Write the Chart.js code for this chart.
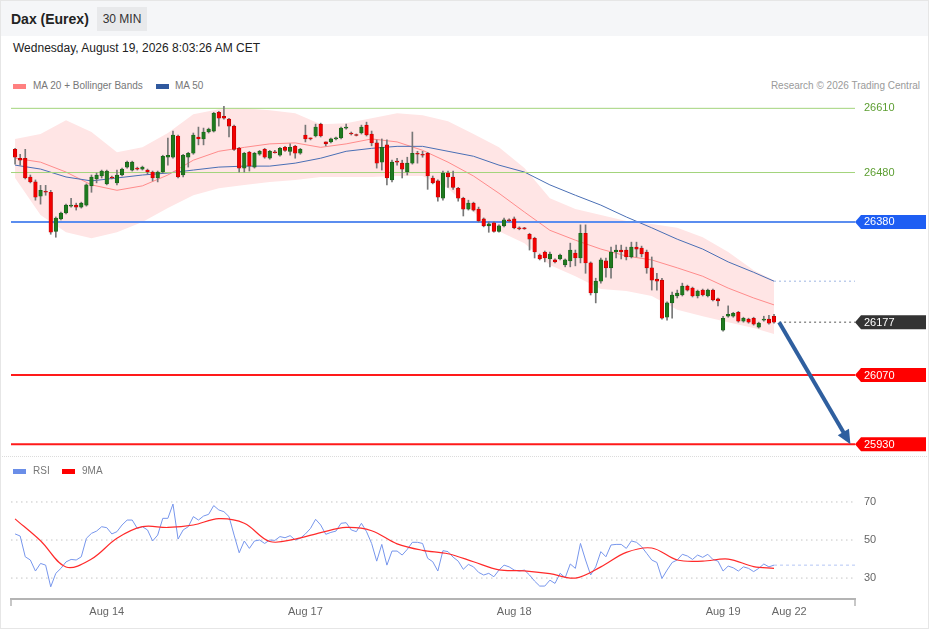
<!DOCTYPE html>
<html lang="en">
<head>
<meta charset="UTF-8">
<title>Dax (Eurex) 30 MIN</title>
<script src="https://cdn.jsdelivr.net/npm/chart.js"></script>
<style>
  html, body { margin: 0; padding: 0; background: #fff; }
  body { font-family: "Liberation Sans", Arial, sans-serif; }
  #page { position: relative; width: 929px; height: 629px; overflow: hidden; }
  .abs { position: absolute; white-space: nowrap; }
  #topbar { left: 0; top: 0; width: 929px; height: 36px; background: #f5f6f8; }
  #title { left: 11px; top: 10px; font-size: 14px; font-weight: bold; color: #222; line-height: 18px; }
  #tf { left: 97px; top: 7px; width: 50px; height: 24px; background: #e8e9eb; font-size: 12px; color: #333; line-height: 24px; text-align: center; }
  #date { left: 13px; top: 41px; font-size: 12px; color: #222; line-height: 14px; }
  .legend { font-size: 10px; color: #777; line-height: 12px; }
  .sw { position: absolute; width: 13px; height: 5px; }
  canvas { position: absolute; left: 0; }
  #frame { left: 0; top: 0; width: 927px; height: 627px; border: 1px solid #e6e6e6; pointer-events: none; }
  #sep { left: 0; top: 456px; width: 929px; height: 0; border-top: 1px dotted #dcdcdc; }
</style>
</head>
<body>
<div id="page">
  <div class="abs" id="topbar"></div>
  <div class="abs" id="title">Dax (Eurex)</div>
  <div class="abs" id="tf">30 MIN</div>
  <div class="abs" id="date">Wednesday, August 19, 2026 8:03:26 AM CET</div>

  <div class="sw" style="left:13px;top:84px;background:#ff8080"></div>
  <div class="abs legend" style="left:33px;top:80px">MA 20 + Bollinger Bands</div>
  <div class="sw" style="left:156px;top:84px;background:#30599e"></div>
  <div class="abs legend" style="left:175px;top:80px">MA 50</div>
  <div class="abs legend" style="right:9px;top:80px;color:#9a9a9a">Research © 2026 Trading Central</div>

  <canvas id="main" width="929" height="460" style="top:0"></canvas>
  <div class="abs" id="sep"></div>

  <div class="sw" style="left:13px;top:469px;background:#6a8ee8"></div>
  <div class="abs legend" style="left:33px;top:465px">RSI</div>
  <div class="sw" style="left:62px;top:469px;background:#ff0000"></div>
  <div class="abs legend" style="left:82px;top:465px">9MA</div>

  <canvas id="rsi" width="929" height="169" style="top:460px"></canvas>
  <div class="abs" id="frame"></div>
</div>

<script>
// ---- data (30 min bars, index 0 = first bar on screen) ----
const dayLabels = ['Aug 14', 'Aug 17', 'Aug 18', 'Aug 19', 'Aug 22'];
const dayStart = [18, 57, 98, 139, 152];

const opens = [
  26527, 26509, 26509, 26471, 26461, 26432, 26442, 26440, 26361, 26386,
  26398, 26412, 26414, 26410, 26414, 26453, 26467, 26473, 26457, 26471,
  26459, 26475, 26491, 26485, 26489, 26487, 26485, 26481, 26469, 26481,
  26511, 26511, 26554, 26475, 26511, 26519, 26552, 26548, 26562, 26564,
  26602, 26594, 26588, 26574, 26529, 26489, 26521, 26491, 26517, 26527,
  26509, 26521, 26515, 26531, 26523, 26533, 26519, 26556, 26550, 26554,
  26578, 26542, 26542, 26548, 26550, 26570, 26560, 26556, 26560, 26576,
  26558, 26540, 26501, 26536, 26465, 26503, 26499, 26481, 26499, 26519,
  26517, 26519, 26469, 26463, 26428, 26479, 26471, 26448, 26428, 26406,
  26418, 26406, 26386, 26372, 26378, 26361, 26372, 26384, 26386, 26368,
  26367, 26355, 26347, 26313, 26319, 26305, 26303, 26305, 26293, 26301,
  26317, 26307, 26357, 26297, 26236, 26260, 26301, 26287, 26319, 26323,
  26323, 26309, 26329, 26327, 26319, 26287, 26264, 26262, 26187, 26216,
  26230, 26232, 26250, 26246, 26230, 26242, 26230, 26242, 26224, 26161,
  26189, 26189, 26197, 26179, 26183, 26185, 26167, 26181, 26183, 26189
];
const highs = [
  26529, 26517, 26527, 26475, 26465, 26454, 26454, 26444, 26390, 26400,
  26416, 26428, 26418, 26420, 26457, 26475, 26479, 26485, 26485, 26473,
  26485, 26489, 26503, 26503, 26491, 26493, 26487, 26483, 26483, 26515,
  26550, 26564, 26556, 26517, 26521, 26560, 26572, 26570, 26570, 26602,
  26604, 26614, 26590, 26576, 26531, 26521, 26523, 26521, 26525, 26529,
  26525, 26525, 26531, 26533, 26538, 26535, 26529, 26576, 26550, 26578,
  26580, 26542, 26550, 26552, 26572, 26578, 26562, 26558, 26576, 26582,
  26564, 26546, 26548, 26546, 26505, 26509, 26505, 26511, 26562, 26523,
  26523, 26521, 26473, 26465, 26483, 26483, 26483, 26450, 26430, 26424,
  26420, 26410, 26388, 26380, 26380, 26374, 26388, 26386, 26390, 26370,
  26369, 26357, 26349, 26315, 26321, 26319, 26305, 26315, 26305, 26337,
  26323, 26374, 26374, 26299, 26266, 26307, 26307, 26329, 26333, 26333,
  26329, 26339, 26339, 26331, 26323, 26309, 26276, 26266, 26218, 26238,
  26242, 26256, 26252, 26248, 26242, 26244, 26244, 26244, 26226, 26189,
  26210, 26197, 26199, 26187, 26185, 26187, 26177, 26189, 26191, 26193
];
const lows = [
  26497, 26495, 26467, 26459, 26424, 26416, 26434, 26355, 26349, 26384,
  26396, 26410, 26404, 26408, 26412, 26440, 26459, 26469, 26455, 26467,
  26455, 26473, 26489, 26483, 26485, 26485, 26477, 26463, 26461, 26479,
  26495, 26509, 26469, 26471, 26491, 26517, 26536, 26536, 26560, 26562,
  26574, 26588, 26552, 26525, 26481, 26481, 26483, 26489, 26515, 26509,
  26507, 26519, 26513, 26523, 26515, 26509, 26517, 26542, 26546, 26552,
  26552, 26534, 26540, 26546, 26548, 26568, 26556, 26554, 26558, 26554,
  26534, 26489, 26485, 26455, 26461, 26495, 26469, 26475, 26497, 26499,
  26511, 26446, 26457, 26422, 26424, 26450, 26446, 26422, 26392, 26404,
  26402, 26380, 26370, 26359, 26359, 26359, 26370, 26380, 26366, 26364,
  26365, 26323, 26307, 26303, 26299, 26289, 26297, 26303, 26289, 26289,
  26291, 26297, 26276, 26232, 26216, 26256, 26268, 26266, 26307, 26305,
  26303, 26307, 26309, 26309, 26276, 26242, 26242, 26183, 26181, 26185,
  26226, 26230, 26240, 26228, 26226, 26230, 26228, 26220, 26210, 26159,
  26187, 26187, 26177, 26177, 26175, 26171, 26165, 26179, 26173, 26175
];
const closes = [
  26511, 26505, 26469, 26461, 26430, 26444, 26440, 26359, 26388, 26398,
  26414, 26414, 26410, 26418, 26455, 26471, 26475, 26483, 26483, 26469,
  26475, 26487, 26501, 26501, 26487, 26491, 26481, 26469, 26481, 26513,
  26515, 26556, 26471, 26515, 26519, 26556, 26548, 26562, 26568, 26600,
  26590, 26590, 26574, 26527, 26489, 26519, 26493, 26519, 26523, 26511,
  26523, 26520, 26529, 26525, 26531, 26519, 26527, 26548, 26548, 26572,
  26554, 26538, 26548, 26550, 26570, 26572, 26558, 26555, 26572, 26556,
  26540, 26499, 26531, 26469, 26501, 26501, 26487, 26499, 26519, 26517,
  26515, 26473, 26459, 26430, 26479, 26471, 26450, 26428, 26406, 26418,
  26404, 26382, 26372, 26376, 26361, 26372, 26384, 26382, 26368, 26366,
  26366, 26345, 26319, 26305, 26307, 26315, 26299, 26313, 26303, 26323,
  26307, 26357, 26297, 26236, 26260, 26303, 26287, 26319, 26323, 26319,
  26309, 26329, 26325, 26315, 26287, 26262, 26260, 26185, 26216, 26232,
  26236, 26250, 26242, 26230, 26240, 26232, 26242, 26222, 26220, 26185,
  26193, 26195, 26179, 26185, 26177, 26173, 26175, 26183, 26175, 26177
];

// indicator readings, taken every 5 bars
const bandIdx = [0, 5, 10, 15, 20, 25, 30, 35, 40, 45, 50, 55, 60, 65, 70, 75,
  80, 85, 90, 95, 100, 105, 110, 115, 120, 125, 130, 135, 140, 145, 149];
const bbUpper = [26548, 26558, 26586, 26562, 26521, 26531, 26560, 26598, 26608, 26610, 26606,
  26600, 26578, 26580, 26590, 26600, 26596, 26584, 26558, 26531, 26489, 26428, 26406,
  26394, 26382, 26376, 26368, 26349, 26319, 26282, 26262];
const bbLower = [26469, 26394, 26359, 26347, 26359, 26380, 26408, 26434, 26448, 26455, 26461,
  26465, 26471, 26471, 26471, 26473, 26473, 26448, 26400, 26361, 26337, 26293, 26270,
  26244, 26240, 26230, 26202, 26189, 26177, 26165, 26153];
const ma20 = [26509, 26501, 26481, 26455, 26444, 26453, 26475, 26505, 26523, 26531, 26538,
  26540, 26531, 26538, 26548, 26542, 26525, 26501, 26473, 26438, 26400, 26363, 26343,
  26325, 26311, 26303, 26287, 26270, 26246, 26226, 26212];
const ma50 = [26495, 26487, 26471, 26463, 26469, 26475, 26479, 26485, 26491, 26493, 26493,
  26499, 26509, 26523, 26529, 26533, 26533, 26523, 26513, 26495, 26481, 26455, 26434,
  26414, 26390, 26368, 26345, 26325, 26299, 26278, 26260];

const rsi = [
  53.2, 52.1, 41.2, 39.5, 33.7, 37.7, 36.8, 25.4, 32.5, 35.1,
  38.5, 39.8, 39.5, 41.2, 50.9, 53.5, 54.7, 57.0, 56.5, 53.2,
  54.4, 57.9, 60.5, 60.5, 56.1, 57.0, 55.3, 49.5, 52.6, 61.4,
  61.4, 68.9, 50.5, 55.3, 57.0, 62.3, 60.5, 62.6, 63.5, 68.1,
  65.8, 64.9, 62.3, 52.6, 43.3, 49.5, 45.6, 49.5, 50.0, 48.2,
  50.0, 49.8, 51.8, 51.2, 52.3, 50.0, 50.9, 53.2, 56.1, 60.9,
  57.9, 53.0, 54.0, 54.7, 58.8, 59.1, 55.3, 54.4, 58.8, 54.4,
  48.2, 38.9, 47.7, 36.8, 44.2, 44.2, 42.1, 45.1, 48.8, 48.8,
  48.2, 40.4, 38.6, 33.7, 44.4, 43.9, 41.0, 38.9, 34.6, 37.2,
  35.9, 33.0, 31.6, 32.5, 30.7, 34.2, 36.8, 35.9, 34.2, 33.7,
  34.2, 31.6, 28.4, 25.8, 25.8, 28.9, 27.2, 32.5, 30.2, 37.4,
  35.1, 48.2, 39.5, 31.6, 35.9, 43.9, 41.2, 47.4, 47.7, 47.7,
  45.6, 49.5, 48.8, 46.5, 43.0, 39.5, 38.2, 29.8, 34.2, 38.2,
  39.5, 42.5, 41.6, 39.8, 42.1, 40.9, 42.5, 39.8, 38.9, 33.7,
  36.3, 35.4, 33.7, 35.9, 35.1, 33.4, 35.1, 37.4, 35.9, 36.8
];
const rsiMa = [61.1, 49.6, 35.8, 40.0, 50.9, 57.0, 56.6, 57.9, 61.2, 58.8, 49.2, 50.5,
  53.9, 56.6, 54.9, 48.0, 44.6, 42.8, 38.6, 34.3, 33.8, 32.3, 30.0, 35.9, 43.5, 45.8,
  39.5, 38.9, 40.0, 36.0, 35.1];

const resistances = [26610, 26480];
const pivotLevel = 26380;
const supports = [26070, 25930];
const rsiLevels = [30, 50, 70];
const projectionBars = 14;

// ---- helpers ----
const FONT = '"Liberation Sans", Arial, sans-serif';
Chart.defaults.font.family = FONT;
Chart.defaults.font.size = 11;
Chart.defaults.color = '#666';

const xMin = -0.8, xMax = 164.9;
const last = closes.length - 1;
const lastPrice = closes[last];
const idx = closes.map((_, i) => i);
const pts = (ix, vals) => ix.map((x, k) => ({x: x, y: vals[k]}));
const hline = (v, from) => [{x: from === undefined ? xMin : from, y: v}, {x: xMax, y: v}];
const lineDs = (data, color, width, extra) => Object.assign({
  type: 'line', data: data, borderColor: color, borderWidth: width,
  pointRadius: 0, fill: false, tension: 0
}, extra || {});

// ---- plugins ----
const levelTags = {
  id: 'levelTags',
  afterDatasetsDraw(chart) {
    const {ctx, chartArea: a, scales: {y}} = chart;
    ctx.save();
    ctx.font = '11px ' + FONT;
    ctx.textBaseline = 'middle';
    resistances.forEach(v => {
      ctx.fillStyle = '#5c9e31';
      ctx.fillText(String(v), a.right + 9, y.getPixelForValue(v));
    });
    const tag = (v, color) => {
      const py = y.getPixelForValue(v);
      ctx.fillStyle = color;
      ctx.beginPath();
      ctx.moveTo(a.right, py);
      ctx.lineTo(a.right + 6, py - 7);
      ctx.lineTo(a.right + 71, py - 7);
      ctx.lineTo(a.right + 71, py + 7);
      ctx.lineTo(a.right + 6, py + 7);
      ctx.closePath();
      ctx.fill();
      ctx.fillStyle = '#fff';
      ctx.fillText(String(v), a.right + 9, py + 0.5);
    };
    tag(pivotLevel, '#1e5ef3');
    tag(lastPrice, '#333333');
    supports.forEach(v => tag(v, '#ff0000'));
    ctx.restore();
  }
};

const projection = {
  id: 'projection',
  afterDatasetsDraw(chart) {
    const {ctx, scales: {x, y}} = chart;
    const x0 = x.getPixelForValue(closes.length), y0 = y.getPixelForValue(lastPrice);
    const target = supports[supports.length - 1];
    const x1 = x.getPixelForValue(last + projectionBars + 1), y1 = y.getPixelForValue(target);
    const ang = Math.atan2(y1 - y0, x1 - x0);
    const head = 14, half = 6.5;
    ctx.save();
    ctx.strokeStyle = '#2f5f9f';
    ctx.fillStyle = '#2f5f9f';
    ctx.lineWidth = 4;
    ctx.beginPath();
    ctx.moveTo(x0, y0);
    ctx.lineTo(x1 - Math.cos(ang) * head * 0.8, y1 - Math.sin(ang) * head * 0.8);
    ctx.stroke();
    ctx.beginPath();
    ctx.moveTo(x1, y1);
    ctx.lineTo(x1 - Math.cos(ang) * head - Math.sin(ang) * half, y1 - Math.sin(ang) * head + Math.cos(ang) * half);
    ctx.lineTo(x1 - Math.cos(ang) * head + Math.sin(ang) * half, y1 - Math.sin(ang) * head - Math.cos(ang) * half);
    ctx.closePath();
    ctx.fill();
    ctx.restore();
  }
};

const axisEnds = {
  id: 'axisEnds',
  afterDraw(chart) {
    const {ctx, chartArea: a} = chart;
    ctx.save();
    ctx.strokeStyle = '#b4b4b4';
    ctx.lineWidth = 1.5;
    [a.left, a.right].forEach(px => {
      ctx.beginPath();
      ctx.moveTo(px, a.bottom);
      ctx.lineTo(px, a.bottom + 7);
      ctx.stroke();
    });
    ctx.restore();
  }
};

// ---- main price chart ----
new Chart(document.getElementById('main'), {
  type: 'bar',
  data: {
    datasets: [
      {
        type: 'bar', label: 'body', grouped: false, order: 0,
        data: idx.map(i => ({x: i, y: [opens[i], closes[i]]})),
        backgroundColor: c => closes[c.dataIndex] >= opens[c.dataIndex] ? '#1f7a1f' : '#f20000',
        borderColor: c => closes[c.dataIndex] >= opens[c.dataIndex] ? '#165a16' : '#b30000',
        borderWidth: 0.6, borderSkipped: false,
        barThickness: 3.6, minBarLength: 1
      },
      {
        type: 'bar', label: 'wick', grouped: false, order: 1,
        data: idx.map(i => ({x: i, y: [lows[i], highs[i]]})),
        backgroundColor: '#777', barThickness: 1
      },
      lineDs(hline(lastPrice, closes.length), '#555', 1, {order: 2, borderDash: [2, 3]}),
      lineDs(hline(supports[0]), '#ff1a1a', 2, {order: 3}),
      lineDs(hline(supports[1]), '#ff1a1a', 2, {order: 3}),
      lineDs(hline(pivotLevel), '#5b8def', 2, {order: 3}),
      lineDs(hline(resistances[0]), '#a3d47c', 1, {order: 3}),
      lineDs(hline(resistances[1]), '#a3d47c', 1, {order: 3}),
      lineDs(pts(bandIdx, ma50), '#4a6fb5', 1, {order: 4}),
      lineDs(hline(ma50[ma50.length - 1], last), '#9db5e2', 1, {order: 4, borderDash: [2, 3]}),
      lineDs(pts(bandIdx, ma20), '#ff8c8c', 1, {order: 4}),
      lineDs(pts(bandIdx, bbUpper), 'rgba(0,0,0,0)', 0, {order: 6, fill: '+1', backgroundColor: '#ffe5e5'}),
      lineDs(pts(bandIdx, bbLower), 'rgba(0,0,0,0)', 0, {order: 6})
    ]
  },
  options: {
    responsive: false,
    animation: false,
    events: [],
    layout: {padding: {left: 11, right: 74, top: 95, bottom: 5}},
    plugins: {legend: {display: false}, tooltip: {enabled: false}},
    scales: {
      x: {type: 'linear', min: xMin, max: xMax, offset: false, display: false},
      y: {type: 'linear', min: 25908, max: 26637, beginAtZero: false, display: false}
    }
  },
  plugins: [levelTags, projection]
});

// ---- RSI panel ----
new Chart(document.getElementById('rsi'), {
  type: 'line',
  data: {
    datasets: [
      lineDs(pts(idx, rsi), '#7796ec', 1, {order: 1}),
      lineDs(hline(rsi[last], last), '#b4c6f5', 1, {order: 1, borderDash: [3, 3]}),
      lineDs(pts(bandIdx, rsiMa), '#ff2a2a', 1.2, {order: 0, tension: 0.35}),
      ...rsiLevels.map(v => lineDs(hline(v), '#c4c4c4', 1, {order: 5, borderDash: [1.5, 3.5]}))
    ]
  },
  options: {
    responsive: false,
    animation: false,
    events: [],
    layout: {padding: {left: 11, right: 0, top: 22, bottom: 0}},
    plugins: {legend: {display: false}, tooltip: {enabled: false}},
    scales: {
      x: {
        type: 'linear', min: xMin, max: xMax, offset: false,
        afterBuildTicks: s => { s.ticks = dayStart.map(v => ({value: v})); },
        afterFit: s => { s.height = 30; },
        grid: {display: false, drawTicks: false},
        border: {display: true, color: '#b4b4b4', width: 2},
        ticks: {
          autoSkip: false, maxRotation: 0, padding: 6, color: '#666',
          callback: v => dayLabels[dayStart.indexOf(v)]
        }
      },
      y: {
        type: 'linear', position: 'right', min: 19, max: 80.5, beginAtZero: false,
        afterBuildTicks: s => { s.ticks = rsiLevels.map(v => ({value: v})); },
        afterFit: s => { s.width = 74; },
        grid: {display: false, drawTicks: false},
        border: {display: false},
        ticks: {padding: 9, color: '#666'}
      }
    }
  },
  plugins: [axisEnds]
});
</script>
</body>
</html>
